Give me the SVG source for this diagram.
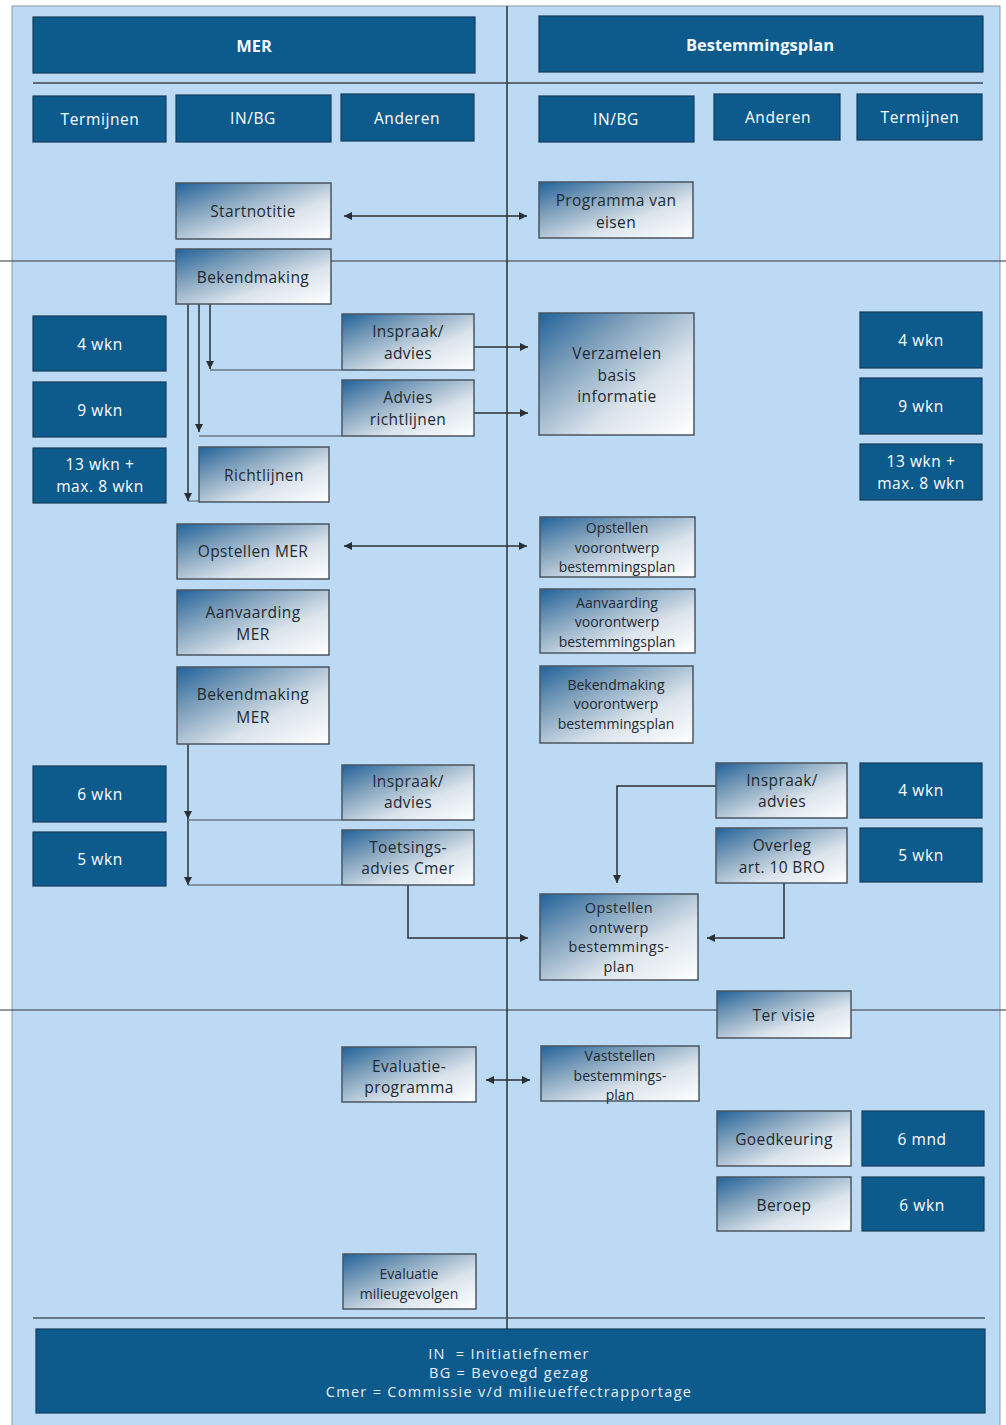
<svg xmlns="http://www.w3.org/2000/svg" width="1006" height="1425" viewBox="0 0 1006 1425">
<style>
.dk{fill:#0d5a8d;stroke:#163c5a;stroke-width:1.2}
.gr{fill:url(#g);stroke:#4a5560;stroke-width:1.5}
.tw{font-family:"Open Sans","Noto Sans",sans-serif;font-size:15.5px;fill:#ffffff;text-anchor:middle;dominant-baseline:central;letter-spacing:0.6px}
.tb{font-family:"Open Sans","Noto Sans",sans-serif;font-size:16.5px;font-weight:bold;fill:#f2f6fa;text-anchor:middle;dominant-baseline:central}
.td{font-family:"Open Sans","Noto Sans",sans-serif;font-size:15.5px;fill:#222a30;text-anchor:middle;dominant-baseline:central;letter-spacing:0.4px}
.tm{font-family:"Open Sans","Noto Sans",sans-serif;font-size:14.5px;fill:#222a30;text-anchor:middle;dominant-baseline:central;letter-spacing:0.4px}
.ts{font-family:"Open Sans","Noto Sans",sans-serif;font-size:14px;fill:#222a30;text-anchor:middle;dominant-baseline:central}
.tl{font-family:"Open Sans","Noto Sans",sans-serif;font-size:14.5px;fill:#e8eef4;text-anchor:middle;dominant-baseline:central;letter-spacing:1.3px}
.ln{fill:none;stroke:#2a2f35;stroke-width:1.5}
.lt{fill:none;stroke:#6b7a88;stroke-width:1.3}
.fr{fill:none;stroke:#30363c;stroke-width:1}
</style>
<defs>
<linearGradient id="g" x1="0" y1="0" x2="1" y2="1">
<stop offset="0" stop-color="#21629a"/>
<stop offset="0.3" stop-color="#7d9fbb"/>
<stop offset="0.65" stop-color="#dbe4ec"/>
<stop offset="1" stop-color="#ffffff"/>
</linearGradient>
<marker id="ah" viewBox="0 0 10 10" refX="10" refY="5" markerWidth="8" markerHeight="8" markerUnits="userSpaceOnUse" orient="auto-start-reverse">
<path d="M0,0 L10,5 L0,10 z" fill="#2a2f35"/>
</marker>
</defs>
<rect x="0" y="0" width="1006" height="1425" fill="#ffffff"/>
<rect x="12" y="6" width="988" height="1425" fill="#bcdaf3" stroke="#8a9aa8" stroke-width="1"/>
<g id="frame">
<line class="fr" x1="0" y1="261" x2="1006" y2="261"/>
<line class="fr" x1="0" y1="1010" x2="1006" y2="1010"/>
<line class="ln" x1="507" y1="6" x2="507" y2="1330"/>
<line x1="33" y1="83" x2="983" y2="83" stroke="#3a4550" stroke-width="1.5"/>
<line x1="33" y1="1318" x2="985" y2="1318" stroke="#4a5866" stroke-width="1.5"/>
</g>
<g id="headers">
<g id="h-mer"><rect class="dk" x="33" y="17" width="442" height="56"/><text class="tb" x="254" y="45">MER</text></g>
<g id="h-bp"><rect class="dk" x="539" y="16" width="444" height="56"/><text class="tb" x="760" y="44">Bestemmingsplan</text></g>
<g id="h-term-l"><rect class="dk" x="33" y="96" width="133" height="46"/><text class="tw" x="100" y="119">Termijnen</text></g>
<g id="h-inbg-l"><rect class="dk" x="176" y="95" width="155" height="47"/><text class="tw" x="253" y="118">IN/BG</text></g>
<g id="h-and-l"><rect class="dk" x="341" y="94" width="133" height="47"/><text class="tw" x="407" y="118">Anderen</text></g>
<g id="h-inbg-r"><rect class="dk" x="539" y="96" width="155" height="46"/><text class="tw" x="616" y="119">IN/BG</text></g>
<g id="h-and-r"><rect class="dk" x="714" y="94" width="126" height="46"/><text class="tw" x="778" y="117">Anderen</text></g>
<g id="h-term-r"><rect class="dk" x="857" y="94" width="125" height="46"/><text class="tw" x="920" y="117">Termijnen</text></g>
</g>
<g id="connectors">
<line class="ln" x1="344" y1="216" x2="527" y2="216" marker-start="url(#ah)" marker-end="url(#ah)"/>
<line class="ln" x1="210" y1="304" x2="210" y2="369" marker-end="url(#ah)"/>
<line class="ln" x1="199" y1="304" x2="199" y2="432" marker-end="url(#ah)"/>
<line class="ln" x1="188" y1="304" x2="188" y2="501" marker-end="url(#ah)"/>
<line class="lt" x1="210" y1="370" x2="342" y2="370"/>
<line class="lt" x1="199" y1="436" x2="342" y2="436"/>
<line class="lt" x1="188" y1="501" x2="199" y2="501"/>
<line class="ln" x1="474" y1="347" x2="528" y2="347" marker-end="url(#ah)"/>
<line class="ln" x1="474" y1="413" x2="528" y2="413" marker-end="url(#ah)"/>
<line class="ln" x1="344" y1="546" x2="527" y2="546" marker-start="url(#ah)" marker-end="url(#ah)"/>
<line class="ln" x1="188" y1="744" x2="188" y2="819" marker-end="url(#ah)"/>
<line class="ln" x1="188" y1="819" x2="188" y2="885" marker-end="url(#ah)"/>
<line class="lt" x1="188" y1="820" x2="342" y2="820"/>
<line class="lt" x1="188" y1="885" x2="342" y2="885"/>
<polyline class="ln" points="408,885 408,938 528,938" marker-end="url(#ah)"/>
<polyline class="ln" points="716,786 617,786 617,883" marker-end="url(#ah)"/>
<polyline class="ln" points="784,883 784,938 707,938" marker-end="url(#ah)"/>
<line class="ln" x1="486" y1="1080" x2="530" y2="1080" marker-start="url(#ah)" marker-end="url(#ah)"/>
</g>
<g id="n-startnotitie"><rect class="gr" x="176" y="183" width="155" height="56"/><text class="td" x="253" y="211">Startnotitie</text></g>
<g id="n-bekendmaking"><rect class="gr" x="176" y="249" width="155" height="55"/><text class="td" x="253" y="277">Bekendmaking</text></g>
<g id="n-pve"><rect class="gr" x="539" y="182" width="154" height="56"/><text class="td" x="616" y="200">Programma van</text><text class="td" x="616" y="222">eisen</text></g>
<g id="n-4wkn-l"><rect class="dk" x="33" y="316" width="133" height="55"/><text class="tw" x="100" y="344">4 wkn</text></g>
<g id="n-9wkn-l"><rect class="dk" x="33" y="382" width="133" height="55"/><text class="tw" x="100" y="410">9 wkn</text></g>
<g id="n-13wkn-l"><rect class="dk" x="33" y="448" width="133" height="55"/><text class="tw" x="100" y="464">13 wkn +</text><text class="tw" x="100" y="486">max. 8 wkn</text></g>
<g id="n-inspraak1"><rect class="gr" x="342" y="314" width="132" height="56"/><text class="td" x="408" y="331">Inspraak/</text><text class="td" x="408" y="353">advies</text></g>
<g id="n-adviesrl"><rect class="gr" x="342" y="380" width="132" height="56"/><text class="td" x="408" y="397">Advies</text><text class="td" x="408" y="419">richtlijnen</text></g>
<g id="n-richtlijnen"><rect class="gr" x="199" y="447" width="130" height="55"/><text class="td" x="264" y="475">Richtlijnen</text></g>
<g id="n-verzamelen"><rect class="gr" x="539" y="313" width="155" height="122"/><text class="td" x="617" y="353">Verzamelen</text><text class="td" x="617" y="375">basis</text><text class="td" x="617" y="396">informatie</text></g>
<g id="n-4wkn-r"><rect class="dk" x="860" y="312" width="122" height="56"/><text class="tw" x="921" y="340">4 wkn</text></g>
<g id="n-9wkn-r"><rect class="dk" x="860" y="378" width="122" height="56"/><text class="tw" x="921" y="406">9 wkn</text></g>
<g id="n-13wkn-r"><rect class="dk" x="860" y="444" width="122" height="56"/><text class="tw" x="921" y="461">13 wkn +</text><text class="tw" x="921" y="483">max. 8 wkn</text></g>
<g id="n-opstmer"><rect class="gr" x="177" y="524" width="152" height="55"/><text class="td" x="253" y="551">Opstellen MER</text></g>
<g id="n-aanvmer"><rect class="gr" x="177" y="590" width="152" height="65"/><text class="td" x="253" y="612">Aanvaarding</text><text class="td" x="253" y="634">MER</text></g>
<g id="n-bekmer"><rect class="gr" x="177" y="667" width="152" height="77"/><text class="td" x="253" y="694">Bekendmaking</text><text class="td" x="253" y="717">MER</text></g>
<g id="n-opstvo"><rect class="gr" x="540" y="517" width="155" height="60"/><text class="ts" x="617" y="527">Opstellen</text><text class="ts" x="617" y="547">voorontwerp</text><text class="ts" x="617" y="566">bestemmingsplan</text></g>
<g id="n-aanvvo"><rect class="gr" x="540" y="589" width="155" height="64"/><text class="ts" x="617" y="602">Aanvaarding</text><text class="ts" x="617" y="621">voorontwerp</text><text class="ts" x="617" y="641">bestemmingsplan</text></g>
<g id="n-bekvo"><rect class="gr" x="540" y="666" width="153" height="77"/><text class="ts" x="616" y="684">Bekendmaking</text><text class="ts" x="616" y="703">voorontwerp</text><text class="ts" x="616" y="723">bestemmingsplan</text></g>
<g id="n-6wkn-l"><rect class="dk" x="33" y="766" width="133" height="56"/><text class="tw" x="100" y="794">6 wkn</text></g>
<g id="n-5wkn-l"><rect class="dk" x="33" y="832" width="133" height="54"/><text class="tw" x="100" y="859">5 wkn</text></g>
<g id="n-inspraak2"><rect class="gr" x="342" y="765" width="132" height="55"/><text class="td" x="408" y="781">Inspraak/</text><text class="td" x="408" y="802">advies</text></g>
<g id="n-toetsing"><rect class="gr" x="342" y="830" width="132" height="55"/><text class="td" x="408" y="847">Toetsings-</text><text class="td" x="408" y="868">advies Cmer</text></g>
<g id="n-inspraak3"><rect class="gr" x="716" y="763" width="131" height="55"/><text class="td" x="782" y="780">Inspraak/</text><text class="td" x="782" y="801">advies</text></g>
<g id="n-4wkn-r2"><rect class="dk" x="860" y="763" width="122" height="55"/><text class="tw" x="921" y="790">4 wkn</text></g>
<g id="n-overleg"><rect class="gr" x="716" y="828" width="131" height="55"/><text class="td" x="782" y="845">Overleg</text><text class="td" x="782" y="867">art. 10 BRO</text></g>
<g id="n-5wkn-r"><rect class="dk" x="860" y="828" width="122" height="54"/><text class="tw" x="921" y="855">5 wkn</text></g>
<g id="n-opstontw"><rect class="gr" x="540" y="894" width="158" height="86"/><text class="tm" x="619" y="907">Opstellen</text><text class="tm" x="619" y="927">ontwerp</text><text class="tm" x="619" y="946">bestemmings-</text><text class="tm" x="619" y="966">plan</text></g>
<g id="n-tervisie"><rect class="gr" x="717" y="991" width="134" height="47"/><text class="td" x="784" y="1015">Ter visie</text></g>
<g id="n-evalprog"><rect class="gr" x="342" y="1047" width="134" height="55"/><text class="td" x="409" y="1066">Evaluatie-</text><text class="td" x="409" y="1087">programma</text></g>
<g id="n-vaststellen"><rect class="gr" x="541" y="1046" width="158" height="55"/><text class="ts" x="620" y="1055">Vaststellen</text><text class="ts" x="620" y="1075">bestemmings-</text><text class="ts" x="620" y="1094">plan</text></g>
<g id="n-goedkeuring"><rect class="gr" x="717" y="1111" width="134" height="55"/><text class="td" x="784" y="1139">Goedkeuring</text></g>
<g id="n-6mnd"><rect class="dk" x="862" y="1111" width="122" height="55"/><text class="tw" x="922" y="1139">6 mnd</text></g>
<g id="n-beroep"><rect class="gr" x="717" y="1177" width="134" height="54"/><text class="td" x="784" y="1205">Beroep</text></g>
<g id="n-6wkn-r"><rect class="dk" x="862" y="1177" width="122" height="54"/><text class="tw" x="922" y="1205">6 wkn</text></g>
<g id="n-evalmil"><rect class="gr" x="343" y="1254" width="133" height="55"/><text class="ts" x="409" y="1273">Evaluatie</text><text class="ts" x="409" y="1293">milieugevolgen</text></g>
<g id="legend"><rect class="dk" x="36" y="1329" width="949" height="84"/>
<text class="tl" x="509" y="1353">IN&#160; = Initiatiefnemer</text>
<text class="tl" x="509" y="1372">BG = Bevoegd gezag</text>
<text class="tl" x="509" y="1391">Cmer = Commissie v/d milieueffectrapportage</text>
</g>
</svg>
